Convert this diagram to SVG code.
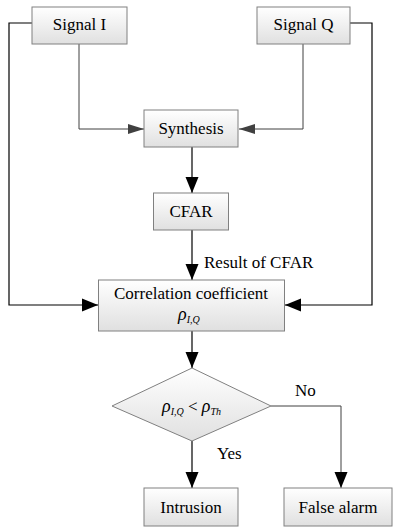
<svg xmlns="http://www.w3.org/2000/svg" width="393" height="530" viewBox="0 0 393 530">
<defs>
<linearGradient id="g" x1="0" y1="0" x2="0" y2="1">
<stop offset="0" stop-color="#ffffff"/>
<stop offset="1" stop-color="#e0e0e0"/>
</linearGradient>
<marker id="ab" markerUnits="userSpaceOnUse" markerWidth="18" markerHeight="14" refX="16" refY="7" orient="auto">
<path d="M0,0.5 L16,7 L0,13.5 Z" fill="#000"/>
</marker>
<marker id="ag" markerUnits="userSpaceOnUse" markerWidth="18" markerHeight="12" refX="16" refY="6" orient="auto">
<path d="M0,1 L16,6 L0,11 Z" fill="#404040"/>
</marker>
</defs>
<style>
.box{fill:url(#g);stroke:#808080;stroke-width:1}
.t{font-family:"Liberation Serif","Times New Roman","DejaVu Serif",serif;font-size:17px;fill:#000;text-anchor:middle}
.lbl{font-family:"Liberation Serif","Times New Roman","DejaVu Serif",serif;font-size:17px;fill:#000}
.m{font-family:"Liberation Serif","Times New Roman","DejaVu Serif",serif;font-style:italic;fill:#000}
.c{fill:none;stroke:#000;stroke-width:1.2}
.cg{fill:none;stroke:#404040;stroke-width:1}
</style>
<g id="connectors">
<path class="cg" d="M79,44 V129 H144" marker-end="url(#ag)"/>
<path class="cg" d="M303,44 V129 H239" marker-end="url(#ag)"/>
<path class="c" d="M32,23 H9 V305 H98" marker-end="url(#ab)"/>
<path class="c" d="M350,23 H372 V305 H285" marker-end="url(#ab)"/>
<path class="c" d="M192,147 V193" marker-end="url(#ab)"/>
<path class="c" d="M192,230 V280" marker-end="url(#ab)"/>
<path class="c" d="M192,331 V368" marker-end="url(#ab)"/>
<path class="c" d="M192,441 V488" marker-end="url(#ab)"/>
<path class="cg" d="M271,406 H341 V488" marker-end="url(#ab)"/>
<text class="lbl" x="204" y="268">Result of CFAR</text>
<text class="lbl" x="295" y="396">No</text>
<text class="lbl" x="217" y="459">Yes</text>
</g>
<g id="signalI">
<rect class="box" x="32" y="7" width="95" height="37"/>
<text class="t" x="79.5" y="30">Signal I</text>
</g>
<g id="signalQ">
<rect class="box" x="257" y="7" width="93" height="37"/>
<text class="t" x="303.5" y="30">Signal Q</text>
</g>
<g id="synthesis">
<rect class="box" x="144" y="110" width="94" height="37"/>
<text class="t" x="191" y="134">Synthesis</text>
</g>
<g id="cfar">
<rect class="box" x="153.5" y="193" width="75" height="37"/>
<text class="t" x="191" y="217">CFAR</text>
</g>
<g id="correlation">
<rect class="box" x="98.5" y="280" width="186" height="51"/>
<text class="t" x="191" y="299">Correlation coefficient</text>
<text class="m" x="178" y="320" font-size="18">ρ<tspan font-size="10" dy="3">I,Q</tspan></text>
</g>
<g id="decision">
<polygon class="box" points="192,368 271,406 192,441 112,406"/>
<text class="m" x="162" y="412" font-size="18">ρ<tspan font-size="10" dy="3">I,Q</tspan><tspan font-size="17" font-style="normal" dy="-3"> &lt; </tspan>ρ<tspan font-size="10" dy="3">Th</tspan></text>
</g>
<g id="intrusion">
<rect class="box" x="144" y="488" width="94" height="38"/>
<text class="t" x="191" y="513">Intrusion</text>
</g>
<g id="falsealarm">
<rect class="box" x="284" y="488" width="108" height="38"/>
<text class="t" x="338" y="513">False alarm</text>
</g>
</svg>
